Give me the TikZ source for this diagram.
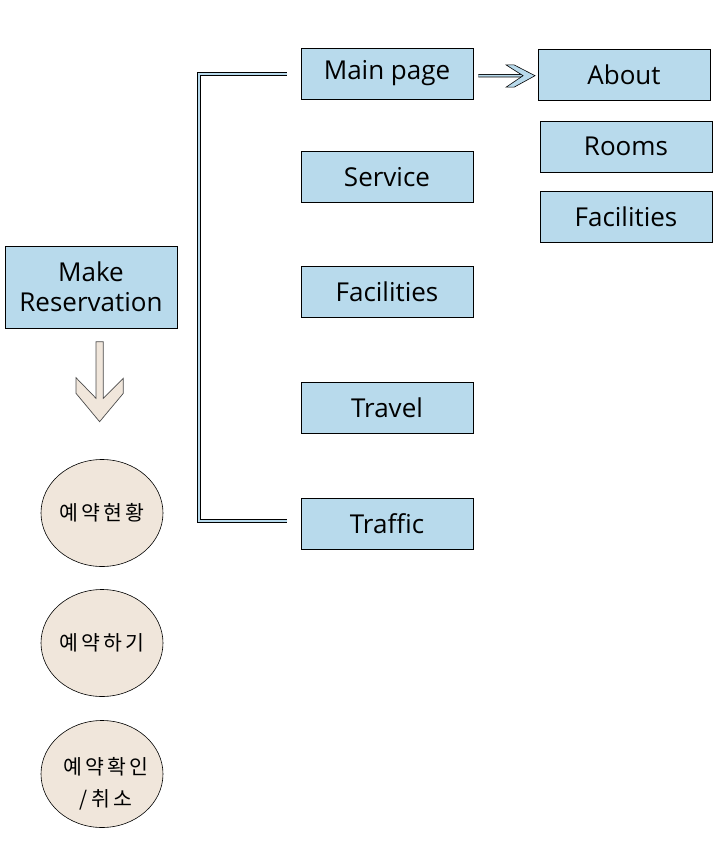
\documentclass[tikz,border=0pt]{standalone}
\usepackage{fontspec}
\setmainfont{Open Sans}
\newfontfamily\krfont{Noto Sans CJK KR}
\usetikzlibrary{arrows.meta,calc,shapes.geometric}
\definecolor{boxblue}{HTML}{B8DAEC}
\definecolor{beige}{HTML}{F0E6DB}
\tikzset{
  pagebox/.style={draw=black, line width=0.9pt, fill=boxblue, minimum width=172pt, minimum height=51pt, inner sep=0pt, font=\fontsize{26}{28}\selectfont, align=center},
  menucircle/.style={ellipse, draw=black, line width=0.6pt, fill=beige, minimum width=122pt, minimum height=107pt, inner sep=0pt},
  krtext/.style={inner sep=0pt, font=\krfont\fontsize{20.5}{32}\selectfont, align=center},
  dline/.style={draw=black, double=boxblue, double distance=1.6pt, line width=0.8pt},
  chevron/.style={draw=black, fill=boxblue, line width=0.6pt, line join=miter}
}
\begin{document}
\begin{tikzpicture}[x=1pt,y=-1pt]
\useasboundingbox (0,0) rectangle (719,853);
\node[pagebox] (main) at (387,73.5) {Main page};
\node[pagebox] (service) at (387,177) {Service};
\node[pagebox] (facil) at (387,292) {Facilities};
\node[pagebox] (travel) at (387,408) {Travel};
\node[pagebox] (traffic) at (387,523.5) {Traffic};
\node[pagebox] (about) at (624,74.5) {About};
\node[pagebox] (rooms) at (626,146.5) {Rooms};
\node[pagebox] (facil2) at (626,216.5) {Facilities};
\node[pagebox, minimum height=82pt, font=\fontsize{26}{30}\selectfont] (make) at (91,287) {Make\\Reservation};
\node[menucircle] (c1) at (102,513) {};
\node[menucircle] (c2) at (102,643) {};
\node[menucircle] (c3) at (102,774) {};
\node[krtext] (t1) at (c1) {예\,약\,현\,황};
\node[krtext] (t2) at (c2) {예\,약\,하\,기};
\node[krtext] (t3) at ($(c3)+(4,10)$) {예\,약\,확\,인\\/\,취\,소};
% bracket connector
\coordinate (btop) at ($(main.west)+(-14,0.5)$);
\coordinate (bbot) at ($(traffic.west)+(-14,-2.5)$);
\draw[dline] (btop) -- (199,74) -- (199,521) -- (bbot);
% main -> about arrow
\coordinate (ashaft) at ($(main.east)+(5,2.3)$);
\coordinate (atip) at ($(about.west)+(-2.5,1.2)$);
\draw[dline] (ashaft) -- ($(atip)+(-11,0)$);
\draw[chevron] ($(atip)+(-29,-10.8)$) -- ($(atip)+(-21,-10.8)$) -- (atip)
  -- ($(atip)+(-21,11.5)$) -- ($(atip)+(-29,11.5)$) -- ($(atip)+(-12,0)$) -- cycle;
% big down arrow
\draw[draw=black!70, fill=beige, line width=0.7pt, line join=miter]
  (96,341.7) -- (103.3,341.7) -- (103.3,398.3) -- (123.3,378.3) -- (123.3,393.3)
  -- (99.6,421.7) -- (76,393.3) -- (76,377.7) -- (96,398.3) -- cycle;
\end{tikzpicture}
\end{document}
